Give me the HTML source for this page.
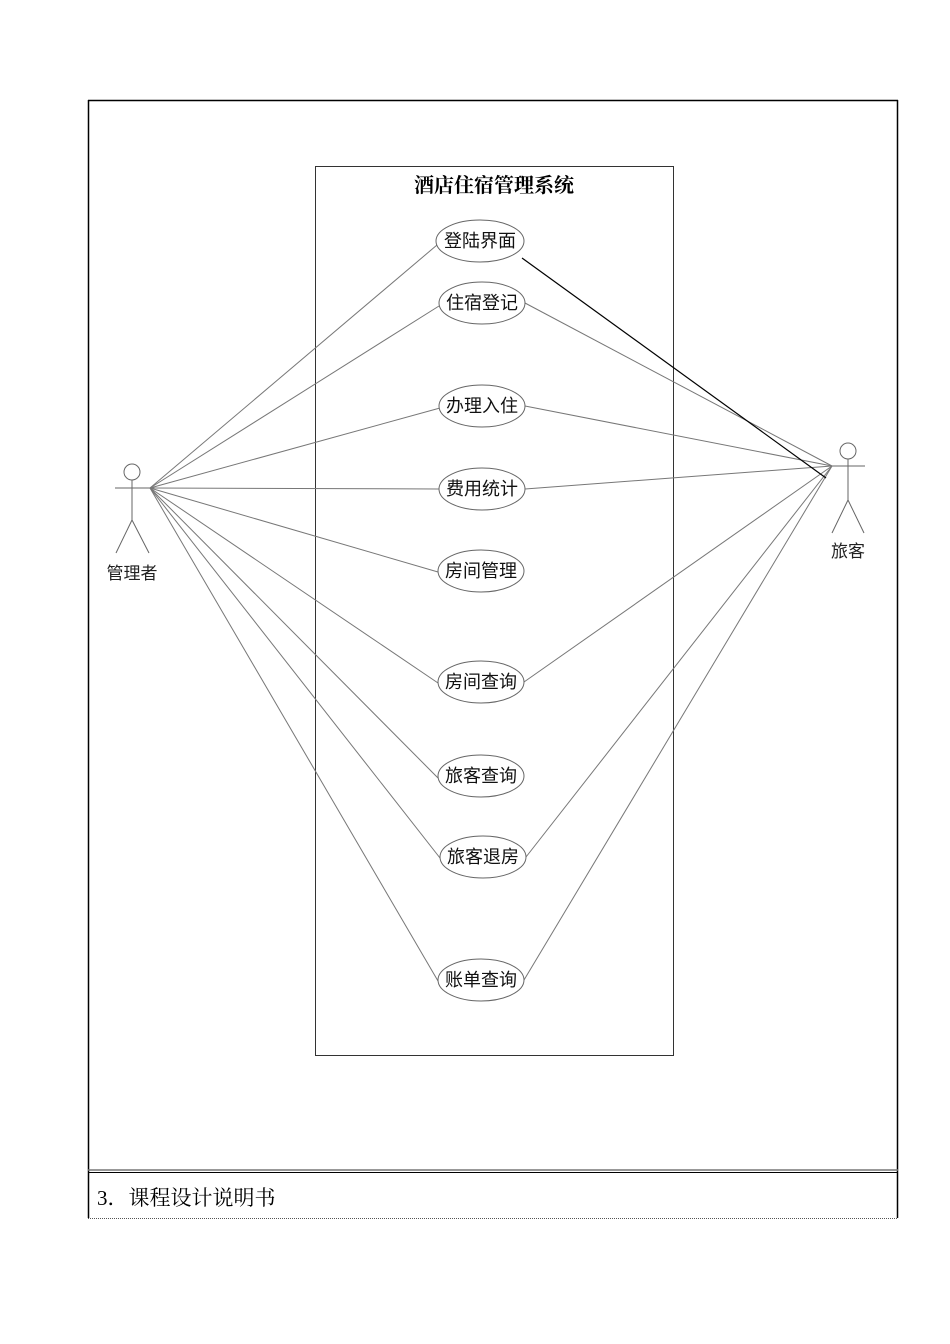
<!DOCTYPE html>
<html><head><meta charset="utf-8"><style>
html,body{margin:0;padding:0;background:#fff;width:950px;height:1344px;overflow:hidden}
svg{display:block}
</style></head><body>
<svg width="950" height="1344" xmlns="http://www.w3.org/2000/svg" font-family="'Liberation Sans','Noto Sans CJK SC',sans-serif">
<line x1="88.5" y1="100" x2="88.5" y2="1218" stroke="#000" stroke-width="1.5"/>
<line x1="897.5" y1="100" x2="897.5" y2="1218" stroke="#000" stroke-width="1.5"/>
<line x1="88" y1="100.5" x2="898" y2="100.5" stroke="#000" stroke-width="1.5"/>
<line x1="88" y1="1170" x2="898" y2="1170" stroke="#777" stroke-width="1.5"/>
<line x1="88" y1="1172.5" x2="898" y2="1172.5" stroke="#000" stroke-width="1"/>
<line x1="88" y1="1218.5" x2="898" y2="1218.5" stroke="#555" stroke-width="1" stroke-dasharray="1,1"/>
<text x="97" y="1205" font-size="21" font-family="'Liberation Serif','Noto Serif CJK SC',serif">3．课程设计说明书</text>

<rect x="315.5" y="166.5" width="358" height="889" fill="none" stroke="#333" stroke-width="1"/>
<text x="494" y="192" font-size="20" font-weight="bold" text-anchor="middle" font-family="'Liberation Serif','Noto Serif CJK SC',serif">酒店住宿管理系统</text>

<g stroke="#777" stroke-width="1" fill="none">
<line x1="150" y1="488" x2="437" y2="245"/>
<line x1="150" y1="488" x2="439" y2="306"/>
<line x1="150" y1="488" x2="440" y2="408"/>
<line x1="150" y1="488" x2="439" y2="489"/>
<line x1="150" y1="488" x2="438" y2="572"/>
<line x1="150" y1="488" x2="438" y2="683"/>
<line x1="150" y1="488" x2="438" y2="778"/>
<line x1="150" y1="488" x2="440" y2="858"/>
<line x1="150" y1="488" x2="438" y2="981"/>
<line x1="832" y1="466" x2="525" y2="303"/>
<line x1="832" y1="466" x2="525" y2="406"/>
<line x1="832" y1="466" x2="525" y2="489"/>
<line x1="832" y1="466" x2="524" y2="682"/>
<line x1="832" y1="466" x2="526" y2="857"/>
<line x1="832" y1="466" x2="524" y2="980"/>
</g>
<line x1="522" y1="258" x2="826" y2="478" stroke="#000" stroke-width="1.2"/>

<g fill="#fff" stroke="#666" stroke-width="1">
<ellipse cx="480" cy="241" rx="44" ry="21"/>
<ellipse cx="482" cy="303" rx="43" ry="21"/>
<ellipse cx="482" cy="406" rx="43" ry="21"/>
<ellipse cx="482" cy="489" rx="43" ry="21"/>
<ellipse cx="481" cy="571" rx="43" ry="21"/>
<ellipse cx="481" cy="682" rx="43" ry="21"/>
<ellipse cx="481" cy="776" rx="43" ry="21"/>
<ellipse cx="483" cy="857" rx="43" ry="21"/>
<ellipse cx="481" cy="980" rx="43" ry="21"/>
</g>
<g font-size="18" text-anchor="middle" fill="#111">
<text x="480" y="247">登陆界面</text>
<text x="482" y="309">住宿登记</text>
<text x="482" y="412">办理入住</text>
<text x="482" y="495">费用统计</text>
<text x="481" y="577">房间管理</text>
<text x="481" y="688">房间查询</text>
<text x="481" y="782">旅客查询</text>
<text x="483" y="863">旅客退房</text>
<text x="481" y="986">账单查询</text>
</g>

<g stroke="#666" stroke-width="1" fill="none">
<circle cx="132" cy="472" r="8"/>
<line x1="132" y1="480" x2="132" y2="520"/>
<line x1="115" y1="488" x2="150" y2="488"/>
<line x1="132" y1="520" x2="116" y2="553"/>
<line x1="132" y1="520" x2="149" y2="553"/>
</g>
<text x="132" y="579" font-size="17" text-anchor="middle" fill="#222">管理者</text>

<g stroke="#666" stroke-width="1" fill="none">
<circle cx="848" cy="451" r="8"/>
<line x1="848" y1="459" x2="848" y2="500"/>
<line x1="832" y1="466" x2="865" y2="466"/>
<line x1="848" y1="500" x2="832" y2="533"/>
<line x1="848" y1="500" x2="864" y2="533"/>
</g>
<text x="848" y="557" font-size="17" text-anchor="middle" fill="#222">旅客</text>
</svg>
</body></html>
